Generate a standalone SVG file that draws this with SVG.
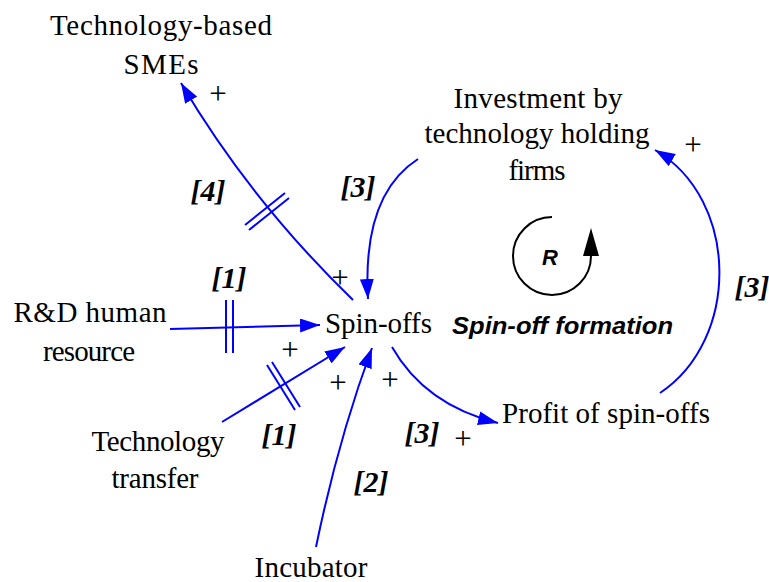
<svg xmlns="http://www.w3.org/2000/svg" width="769" height="582" viewBox="0 0 769 582">
<style>
.node{font-family:"Liberation Serif","Times New Roman",serif;font-size:29px;fill:#000}
.lbl{font-family:"Liberation Serif","Times New Roman",serif;font-size:30px;font-weight:bold;font-style:italic;fill:#000;text-anchor:middle}
.pol{font-family:"Liberation Serif","Times New Roman",serif;font-size:31px;fill:#000;text-anchor:middle}
.link{fill:none;stroke:#0000FF;stroke-width:2}
.hatch{fill:none;stroke:#0000FF;stroke-width:2}
.loop{font-family:"Liberation Sans",Arial,sans-serif;font-weight:bold;font-style:italic;fill:#000}
</style>
<defs>
<marker id="arr" viewBox="0 0 20 14" refX="20" refY="7" markerWidth="20" markerHeight="14" markerUnits="userSpaceOnUse" orient="auto">
<path d="M0,0 L20,7 L0,14 z" fill="#0000FF"/>
</marker>
<marker id="arrk" viewBox="0 0 16 28" refX="8" refY="28" markerWidth="16" markerHeight="28" markerUnits="userSpaceOnUse" orient="0">
<path d="M0,28 L8,0 L16,28 z" fill="#000"/>
</marker>
</defs>

<g id="connectors">
<path class="link" d="M353,300 Q250,200 181,83" marker-end="url(#arr)"/>
<path class="hatch" d="M245,225 L285,193 M249,230 L289,198"/>
<path class="link" d="M418,159 Q362,195 368,299" marker-end="url(#arr)"/>
<path class="link" d="M170,329 L320,325" marker-end="url(#arr)"/>
<path class="hatch" d="M226,300 L226,353 M233,300 L233,353"/>
<path class="link" d="M222,422 L345,347" marker-end="url(#arr)"/>
<path class="hatch" d="M267,365 L295,410 M272,362 L300,407"/>
<path class="link" d="M316,547 Q338,440 372,348" marker-end="url(#arr)"/>
<path class="link" d="M392,347 Q425,405 498,423" marker-end="url(#arr)"/>
<path class="link" d="M660,393 C740,340 740,200 655,150" marker-end="url(#arr)"/>
</g>

<g id="node-smes">
<text class="node" x="161" y="35" text-anchor="middle" textLength="222" lengthAdjust="spacing">Technology-based</text>
<text class="node" x="161" y="74" text-anchor="middle" textLength="75" lengthAdjust="spacing">SMEs</text>
</g>
<g id="node-investment">
<text class="node" x="538" y="108" text-anchor="middle" textLength="169" lengthAdjust="spacing">Investment by</text>
<text class="node" x="537" y="143" text-anchor="middle" textLength="225" lengthAdjust="spacing">technology holding</text>
<text class="node" x="537" y="180" text-anchor="middle" textLength="57" lengthAdjust="spacing">firms</text>
</g>
<g id="node-rd">
<text class="node" x="90" y="322" text-anchor="middle" textLength="153" lengthAdjust="spacing">R&amp;D human</text>
<text class="node" x="89" y="361" text-anchor="middle" textLength="92" lengthAdjust="spacing">resource</text>
</g>
<g id="node-spinoffs">
<text class="node" x="325" y="333" textLength="107" lengthAdjust="spacing">Spin-offs</text>
</g>
<g id="node-techtransfer">
<text class="node" x="158" y="451" text-anchor="middle" textLength="133" lengthAdjust="spacing">Technology</text>
<text class="node" x="155" y="488" text-anchor="middle" textLength="87" lengthAdjust="spacing">transfer</text>
</g>
<g id="node-incubator">
<text class="node" x="311" y="577" text-anchor="middle" textLength="113" lengthAdjust="spacing">Incubator</text>
</g>
<g id="node-profit">
<text class="node" x="502" y="423" textLength="208" lengthAdjust="spacing">Profit of spin-offs</text>
</g>

<g id="loop">
<path d="M552,217 A39,39 0 1 0 591,256" fill="none" stroke="#000" stroke-width="2" marker-end="url(#arrk)"/>
<text class="loop" x="550" y="265" font-size="22" text-anchor="middle">R</text>
<text class="loop" x="452" y="334" font-size="24" textLength="221" lengthAdjust="spacingAndGlyphs">Spin-off formation</text>
</g>

<g id="labels">
<text class="lbl" x="208" y="201">[4]</text>
<text class="lbl" x="358" y="197">[3]</text>
<text class="lbl" x="229" y="288">[1]</text>
<text class="lbl" x="279" y="445">[1]</text>
<text class="lbl" x="371" y="492">[2]</text>
<text class="lbl" x="422" y="443">[3]</text>
<text class="lbl" x="752" y="297">[3]</text>
</g>

<g id="polarities">
<text class="pol" x="218" y="104">+</text>
<text class="pol" x="340" y="288">+</text>
<text class="pol" x="290" y="360">+</text>
<text class="pol" x="338" y="393">+</text>
<text class="pol" x="390" y="390">+</text>
<text class="pol" x="463" y="449">+</text>
<text class="pol" x="693" y="155">+</text>
</g>
</svg>
